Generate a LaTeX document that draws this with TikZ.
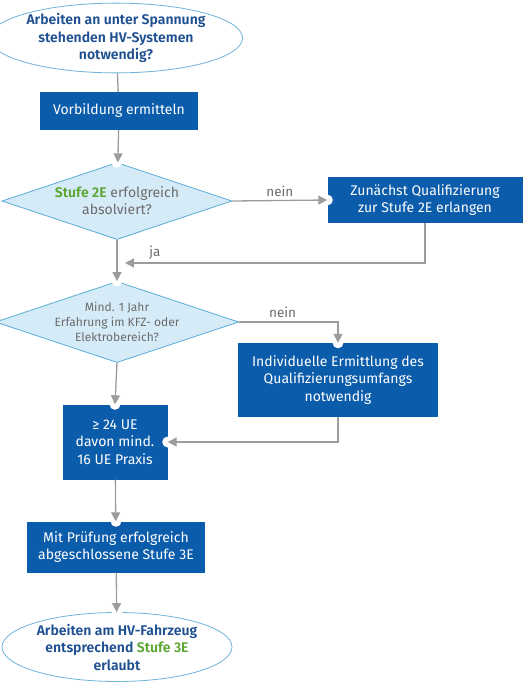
\documentclass[tikz,border=0pt]{standalone}
\usepackage{fontspec}
\setmainfont{Fira Sans}[BoldFont={Fira Sans SemiBold}]
\usetikzlibrary{shapes.geometric,arrows.meta}

\definecolor{hvblue}{HTML}{0B5CAB}
\definecolor{hvdark}{HTML}{1D4F91}
\definecolor{hvgreen}{HTML}{5BA532}
\definecolor{hvgray}{HTML}{6B6B6B}
\definecolor{hvline}{HTML}{9C9C9C}
\definecolor{diafill}{HTML}{D5ECF8}
\definecolor{diaborder}{HTML}{5AACD6}
\definecolor{ellborder}{HTML}{6DB3DA}

\tikzset{
  box/.style={rectangle, fill=hvblue, text=white, align=center, inner sep=0pt,
    font=\fontsize{14}{17.5}\selectfont},
  startend/.style={ellipse, draw=ellborder, fill=white, line width=0.8pt, text=hvdark,
    align=center, inner sep=0pt, font=\bfseries\fontsize{14}{17.5}\selectfont},
  question/.style={diamond, aspect=3, draw=diaborder, fill=diafill, line width=0.8pt,
    text=hvgray, align=center, inner sep=0pt},
  flow/.style={draw=hvline, line width=1.3pt, -{Triangle[length=9pt,width=9pt]}},
  flowlabel/.style={text=hvgray, font=\fontsize{13.5}{15}\selectfont},
}

\begin{document}
\begin{tikzpicture}[x=1pt,y=-1pt]
        \useasboundingbox (0,0) rectangle (527,686);
        % Start and first step
        \node[startend, minimum width=228pt, minimum height=68pt] (start) at (116,38)
            {Arbeiten an unter Spannung\\stehenden HV-Systemen\\notwendig?};
        \node[box, minimum width=158pt, minimum height=38pt] (vorb) at (119,111) {Vorbildung ermitteln};
        % Questions
        \node[question, minimum width=230pt, minimum height=77pt, font=\fontsize{14}{17}\selectfont] (stufe) at (117,201)
            {\textbf{\color{hvgreen}Stufe 2E} erfolgreich\\absolviert?};
        \node[box, minimum width=195pt, minimum height=46pt] (quali) at (425,200)
            {Zunächst Qualifizierung\\zur Stufe 2E erlangen};
        \node[question, minimum width=230pt, minimum height=79pt, font=\fontsize{12}{15}\selectfont] (erfahr) at (117,322)
            {Mind. 1 Jahr\\Erfahrung im KFZ- oder\\Elektrobereich?};
        \node[box, minimum width=200pt, minimum height=74pt] (indiv) at (338,380)
            {Individuelle Ermittlung des\\Qualifizierungsumfangs\\notwendig};
        % Training and result
        \node[box, minimum width=105pt, minimum height=75pt] (ue) at (115,442)
            {≥ 24 UE\\davon mind.\\16 UE Praxis};
        \node[box, minimum width=178pt, minimum height=51pt] (pruef) at (116,547)
            {Mit Prüfung erfolgreich\\abgeschlossene Stufe 3E};
        \node[startend, minimum width=230pt, minimum height=69pt] (ende) at (117,647)
            {Arbeiten am HV-Fahrzeug\\entsprechend {\color{hvgreen}Stufe 3E}\\erlaubt};
        \coordinate (jatip) at (125,263);
        % White notches where the arrows end
        \foreach \n in {stufe.north, quali.west, erfahr.north, indiv.north, ue.north, ue.east, pruef.north, ende.north}
            \fill[white] (\n) circle (5.5pt);
        % Connectors
        \draw[draw=hvline, line width=1.3pt] (start) -- (vorb);
        \draw[flow] (vorb) -- (stufe);
        \draw[flow] (stufe.east) -- node[above, flowlabel] {nein} (quali.west);
        \draw[flow] (quali.south) |- node[above, flowlabel, pos=0.95] {ja} (jatip);
        \draw[flow] (stufe.south) -- (erfahr.north);
        \draw[flow] (erfahr.east) -| node[above, flowlabel, pos=0.22] {nein} (indiv.north);
        \draw[flow] (erfahr.south) -- (ue.north);
        \draw[flow] (indiv.south) |- (ue.east);
        \draw[flow] (ue) -- (pruef);
        \draw[flow] (pruef) -- (ende);
    \end{tikzpicture}
\end{document}
